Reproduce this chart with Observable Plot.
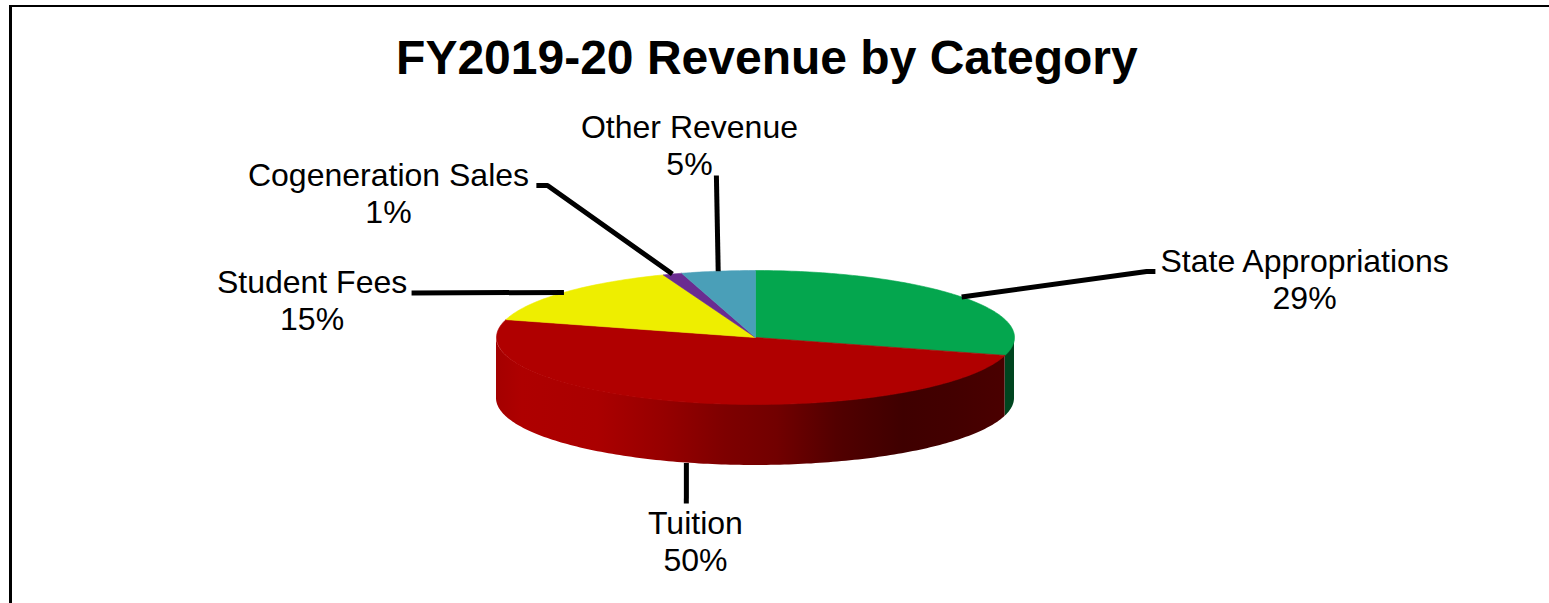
<!DOCTYPE html>
<html>
<head>
<meta charset="utf-8">
<script src="https://cdn.jsdelivr.net/npm/d3@7"></script>
<script src="https://cdn.jsdelivr.net/npm/@observablehq/plot@0.6"></script>
<style>
  html, body { margin: 0; padding: 0; background: #fff; overflow: hidden; }
  #chart { position: absolute; left: 0; top: 0; }
  #chart svg { display: block; background: transparent; }
  #frame { position: absolute; left: 9px; top: 5px; right: -5px; bottom: -5px; border-left: 3px solid #000; border-top: 2.5px solid #000; }
</style>
</head>
<body>
<div id="frame"></div>
<div id="chart"></div>
<script>
// Chart data
const title = "FY2019-20 Revenue by Category";
const categories = ["State Appropriations", "Tuition", "Student Fees", "Cogeneration Sales", "Other Revenue"];
const shares = [29.3, 50.0, 14.9, 1.2, 4.6];
const colors = ["#04a64e", "#b00000", "#eeee00", "#6a2c91", "#4a9fb8"];
const sideColor = "#00451f";

// Layout, in pie radii from the pie's centre
const depth = 0.91;
const labelX = [2.12, -0.232, -1.712, -1.417, -0.255];
const labelY = [0.873, -3.037, 0.56, 2.157, 2.873];
const leaderElbows = [
  [[1.51, 0.985], [1.544, 0.985]],
  [[-0.267, -2.478]],
  [[-1.328, 0.664]],
  [[-0.803, 2.269], [-0.846, 2.269]],
  [[-0.151, 2.418]]
];

const rad = (d) => (d * Math.PI) / 180;
const px = (d) => Math.sin(rad(d));
const py = (d) => Math.cos(rad(d));
const arcAngles = (a, b) => [...d3.range(a, b, 1), b];

let acc = 0;
const slices = categories.map((name, i) => {
  const a0 = (acc / 100) * 360;
  acc += shares[i];
  const a1 = (acc / 100) * 360;
  return { name, share: shares[i], a0, a1, mid: (a0 + a1) / 2, i };
});

const topFace = slices.flatMap((s) => [
  { slice: s.name, x: 0, y: 0 },
  ...arcAngles(s.a0, s.a1).map((d) => ({ slice: s.name, x: px(d), y: py(d) })),
  { slice: s.name, x: 0, y: 0 }
]);

const sideOf = (s) => {
  const a = Math.max(s.a0, 90), b = Math.min(s.a1, 270);
  if (a >= b) return [];
  return arcAngles(a, b).map((d) => ({ slice: s.name, x: px(d), y1: py(d), y2: py(d) - depth }));
};
const sideGreen = sideOf(slices[0]);
const sideRed = sideOf(slices[1]);

const leaders = slices.flatMap((s) => {
  const onSide = s.mid > 90 && s.mid < 270;
  const start = { slice: s.name, x: px(s.mid), y: py(s.mid) - (onSide ? depth : 0) };
  return [start, ...leaderElbows[s.i].map(([x, y]) => ({ slice: s.name, x, y }))];
});

const labels = slices.map((s) => ({
  x: labelX[s.i],
  y: labelY[s.i],
  text: `${s.name}\n${d3.format(".0f")(s.share)}%`
}));

const gradient = () => {
  const defs = d3.create("svg:defs");
  const g = defs.append("linearGradient").attr("id", "sideRed")
    .attr("x1", "0").attr("x2", "1").attr("y1", "0").attr("y2", "0");
  [[0, "#a40000"], [0.05, "#ae0000"], [0.2, "#aa0000"], [0.33, "#960000"], [0.45, "#7e0000"],
   [0.55, "#720000"], [0.67, "#520000"], [0.8, "#3f0000"], [0.9, "#430000"], [1, "#4a0000"]]
    .forEach(([o, c]) => g.append("stop").attr("offset", o).attr("stop-color", c));
  return defs.node();
};

const chart = Plot.plot({
  width: 1549,
  height: 603,
  margin: 0,
  x: { domain: [-1, 1], range: [496, 1014], axis: null },
  y: { domain: [-1, 1], range: [404, 270], axis: null },
  color: { domain: categories, range: colors },
  style: { background: "transparent", fontFamily: "'Liberation Sans', Arial, sans-serif" },
  marks: [
    gradient,
    Plot.area(sideGreen, { x1: "x", y1: "y1", y2: "y2", fill: sideColor }),
    Plot.area(sideRed, { x1: "x", y1: "y1", y2: "y2", fill: "url(#sideRed)" }),
    Plot.line(topFace, { x: "x", y: "y", z: "slice", fill: "slice", stroke: "slice", strokeWidth: 0.6 }),
    Plot.line(leaders, { x: "x", y: "y", z: "slice", stroke: "#000", strokeWidth: 5, strokeLinejoin: "miter", strokeLinecap: "butt" }),
    Plot.text(labels, { x: "x", y: "y", text: "text", fontSize: 32, lineHeight: 1.16, lineAnchor: "middle", fill: "#000" }),
    Plot.text([title], { x: [0.044], y: [4.16], text: (d) => d, fontSize: 48, fontWeight: "bold", lineAnchor: "middle", fill: "#000" })
  ]
});
document.getElementById("chart").appendChild(chart);
</script>
</body>
</html>
